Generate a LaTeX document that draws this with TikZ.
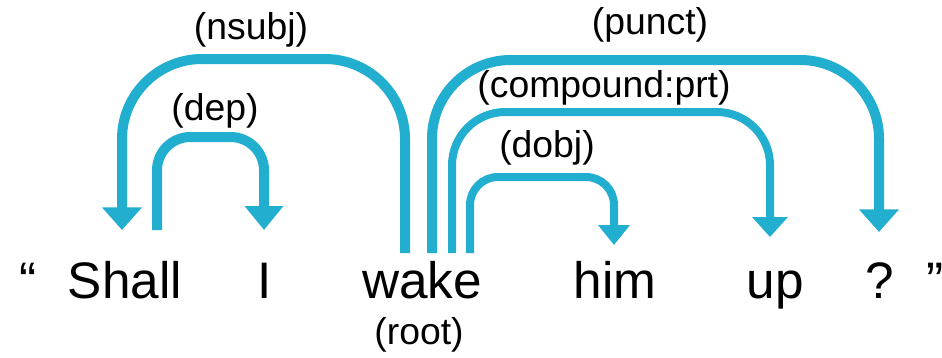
\documentclass[tikz,border=0pt]{standalone}
\usepackage{fontspec}
\setmainfont{Liberation Sans}
\usetikzlibrary{arrows.meta}
\definecolor{arccol}{RGB}{33,174,207}
\tikzset{
  word/.style={anchor=base,inner sep=0pt,font=\fontsize{38.5}{44}\selectfont},
  lab/.style={anchor=base,inner sep=0pt,font=\fontsize{28}{32}\selectfont},
  arcthick/.style={draw=arccol,line width=7.5pt,-{Triangle[width=29pt,length=17pt]}},
  arcthin/.style={draw=arccol,line width=6pt,-{Triangle[width=25pt,length=15pt]}},
}
\begin{document}
\begin{tikzpicture}[x=0.75pt,y=-0.75pt]
\useasboundingbox (0,0) rectangle (942,357);
% words
\node[word] (lq) at (28,298) {“};
\node[word] (shall) at (125,298) {Shall};
\node[word] (i) at (265,298) {I};
\node[word] (wake) at (422,298) {wake};
\node[word] (him) at (615,298) {him};
\node[word] (up) at (775,298) {up};
\node[word] (qm) at (880,298) {?};
\node[word] (rq) at (935,298) {”};
\node[lab] (root) at (419,344) {(root)};
% arc end points
\coordinate (nsubjS) at (405,253);
\coordinate (nsubjE) at (122,230);
\coordinate (depS) at (157,230);
\coordinate (depE) at (264,230);
\coordinate (punctS) at (432,253);
\coordinate (punctE) at (879,232);
\coordinate (compS) at (452,253);
\coordinate (compE) at (770,237);
\coordinate (dobjS) at (470,253);
\coordinate (dobjE) at (614,245);
% arcs
\draw[arcthick,rounded corners=60pt] (nsubjS) -- (nsubjS |- 0,59) -- (nsubjE |- 0,59) -- (nsubjE);
\draw[arcthick,rounded corners=25pt,-{Triangle[width=28pt,length=18pt]}] (depS) -- (depS |- 0,137) -- (depE |- 0,137) -- (depE);
\draw[arcthick,rounded corners=59pt] (punctS) -- (punctS |- 0,60) -- (punctE |- 0,60) -- (punctE);
\draw[arcthin,rounded corners=40pt,-{Triangle[width=26pt,length=15pt]}] (compS) -- (compS |- 0,112) -- (compE |- 0,112) -- (compE);
\draw[arcthin,rounded corners=21pt,-{Triangle[width=23pt,length=15pt]}] (dobjS) -- (dobjS |- 0,177) -- (dobjE |- 0,177) -- (dobjE);
% labels
\node[lab] (lnsubj) at (251,39) {(nsubj)};
\node[lab] (ldep) at (215,120) {(dep)};
\node[lab] (lpunct) at (650,34) {(punct)};
\node[lab] (lcomp) at (604,97) {(compound:prt)};
\node[lab] (ldobj) at (547,157) {(dobj)};
\end{tikzpicture}
\end{document}
